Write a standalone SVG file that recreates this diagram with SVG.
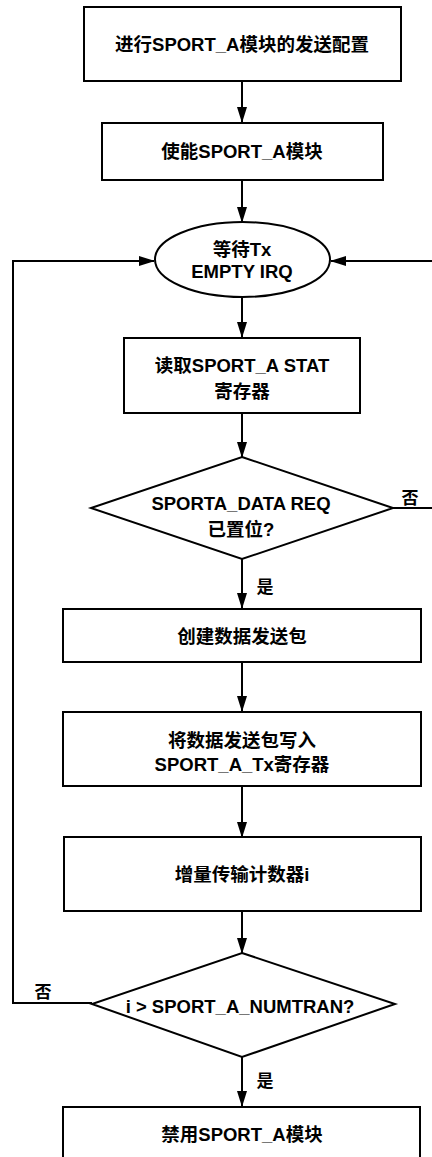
<svg xmlns="http://www.w3.org/2000/svg" width="432" height="1157" viewBox="0 0 432 1157">
<style>
.n{fill:#fff;stroke:#000;stroke-width:2}
.c{fill:none;stroke:#000;stroke-width:2}
text{font-family:"Liberation Sans","Noto Sans CJK SC",sans-serif;font-weight:bold;font-size:18.5px;fill:#000;text-anchor:middle}
.l{font-size:17px}
</style>
<defs>
<marker id="ah" markerWidth="16" markerHeight="10" refX="15" refY="5" viewBox="0 0 16 10" orient="auto" markerUnits="userSpaceOnUse">
<path d="M0,0 L16,5 L0,10 Z" fill="#000"/>
</marker>
</defs>
<rect width="432" height="1157" fill="#fff"/>
<g id="connectors">
<line class="c" x1="242" y1="81" x2="242" y2="122" marker-end="url(#ah)"/>
<line class="c" x1="242" y1="180" x2="242" y2="222" marker-end="url(#ah)"/>
<line class="c" x1="242" y1="297" x2="242" y2="337" marker-end="url(#ah)"/>
<line class="c" x1="242" y1="413" x2="242" y2="457" marker-end="url(#ah)"/>
<line class="c" x1="242" y1="559" x2="242" y2="608" marker-end="url(#ah)"/>
<line class="c" x1="242" y1="662" x2="242" y2="711" marker-end="url(#ah)"/>
<line class="c" x1="242" y1="786" x2="242" y2="837" marker-end="url(#ah)"/>
<line class="c" x1="242" y1="911" x2="242" y2="953" marker-end="url(#ah)"/>
<line class="c" x1="242" y1="1057" x2="242" y2="1106" marker-end="url(#ah)"/>
<path class="c" d="M92,1003 H13 V261 H154" marker-end="url(#ah)"/>
<path class="c" d="M393,508 H434 V261 H331" marker-end="url(#ah)"/>
<text class="l" x="410" y="504">否</text>
<text class="l" x="265" y="593">是</text>
<text class="l" x="43" y="998">否</text>
<text class="l" x="265" y="1087">是</text>
</g>
<g id="n1"><rect class="n" x="84" y="7" width="317" height="74"/><text x="242" y="51">进行SPORT_A模块的发送配置</text></g>
<g id="n2"><rect class="n" x="102" y="123" width="281" height="57"/><text x="242" y="158">使能SPORT_A模块</text></g>
<g id="n3"><ellipse class="n" cx="242.5" cy="259.5" rx="87.5" ry="37.5"/><text x="242" y="256">等待Tx</text><text x="242" y="278">EMPTY IRQ</text></g>
<g id="n4"><rect class="n" x="124" y="338" width="236" height="75"/><text x="242" y="372">读取SPORT_A STAT</text><text x="242" y="398">寄存器</text></g>
<g id="n5"><polygon class="n" points="242,457 393,508 242,559 91,508"/><text x="241" y="510">SPORTA_DATA REQ</text><text x="241" y="536">已置位?</text></g>
<g id="n6"><rect class="n" x="63" y="609" width="358" height="53"/><text x="242" y="643">创建数据发送包</text></g>
<g id="n7"><rect class="n" x="63" y="712" width="358" height="74"/><text x="242" y="747">将数据发送包写入</text><text x="242" y="771">SPORT_A_Tx寄存器</text></g>
<g id="n8"><rect class="n" x="64" y="837" width="357" height="74"/><text x="242" y="881">增量传输计数器i</text></g>
<g id="n9"><polygon class="n" points="242,953 395,1004 242,1057 92,1004"/><text x="240" y="1013">i &gt; SPORT_A_NUMTRAN?</text></g>
<g id="n10"><rect class="n" x="63" y="1107" width="357" height="60"/><text x="242" y="1141">禁用SPORT_A模块</text></g>
</svg>
